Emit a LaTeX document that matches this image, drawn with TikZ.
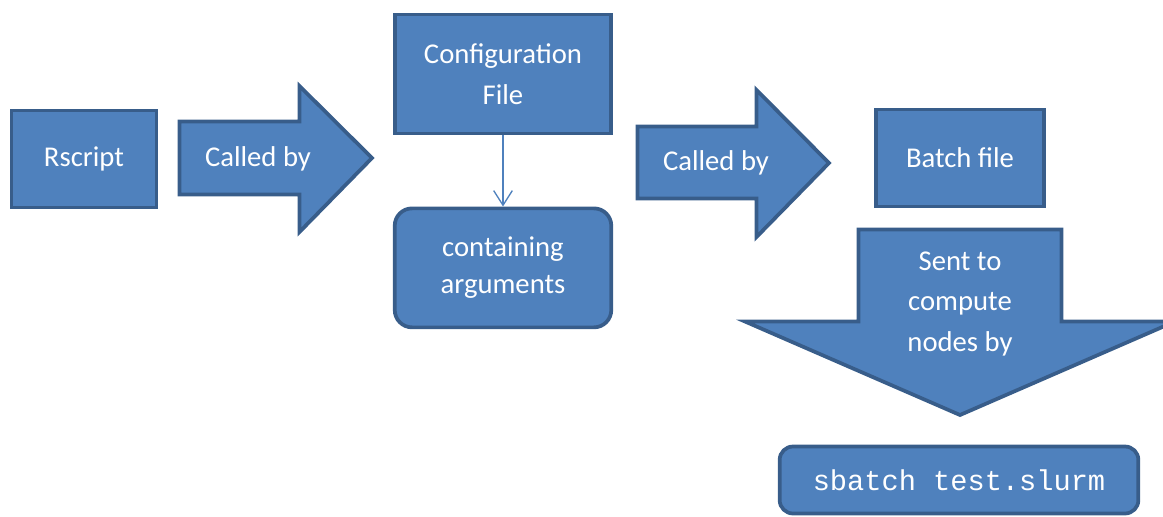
\documentclass[tikz,border=0pt]{standalone}
\usepackage{fontspec}
\setmainfont{Carlito}
\newfontfamily\codefont{Liberation Mono}
\usepackage{xcolor}
\usetikzlibrary{calc,arrows.meta}
\definecolor{boxfill}{HTML}{4F81BD}
\definecolor{boxline}{HTML}{385D8A}

\begin{document}
\begin{tikzpicture}[x=0.75pt,y=-0.75pt,
        every node/.style={text=white,align=center,inner sep=0pt,font=\fontsize{21.5}{30.5}\selectfont},
        block/.style={draw=boxline,fill=boxfill,line width=2.8pt},
        bigarrow/.style={draw=boxline,fill=boxfill,line width=2.8pt,line join=miter}]
        \useasboundingbox (0,0) rectangle (1163,517);

        \node[block,minimum width=108.75pt,minimum height=72.75pt] (rscript) at (84,159) {Rscript};

        \draw[bigarrow] (179.5,121.5) -- (299.5,121.5) -- (299.5,86) -- (372,158)
            -- (299.5,232) -- (299.5,194.5) -- (179.5,194.5) -- cycle;
        \node (call1) at (258,159) {Called by};

        \node[block,minimum width=162.4pt,minimum height=89.25pt] (config) at (503,74) {Configuration\\File};

        \node[block,rounded corners=13pt,minimum width=162.4pt,minimum height=89.25pt,
            font=\fontsize{21.5}{27.5}\selectfont] (args)
            at ($(config.south)+(0,132.5)$) {containing\\arguments};

        \draw[boxfill,line width=1pt,-{Straight Barb[length=11pt,width=14pt]}] (config.south) -- (args.north);

        \draw[bigarrow] (637.5,126.5) -- (756.5,126.5) -- (756.5,90) -- (829,163)
            -- (756.5,237) -- (756.5,198.5) -- (637.5,198.5) -- cycle;
        \node (call2) at (716,163) {Called by};

        \node[block,minimum width=126.4pt,minimum height=72.75pt] (batch) at (960,158) {Batch file};

        \draw[bigarrow] (858.5,229.5) -- (1061.5,229.5) -- (1061.5,321.5) -- (1175,321.5)
            -- (960,415) -- (745,321.5) -- (858.5,321.5) -- cycle;
        \node (sent) at (960,304) {Sent to\\compute\\nodes by};

        \node[block,rounded corners=10pt,minimum width=269pt,minimum height=50.25pt] (sbatch)
            at (959,480) {\codefont sbatch test.slurm};
    \end{tikzpicture}
\end{document}
